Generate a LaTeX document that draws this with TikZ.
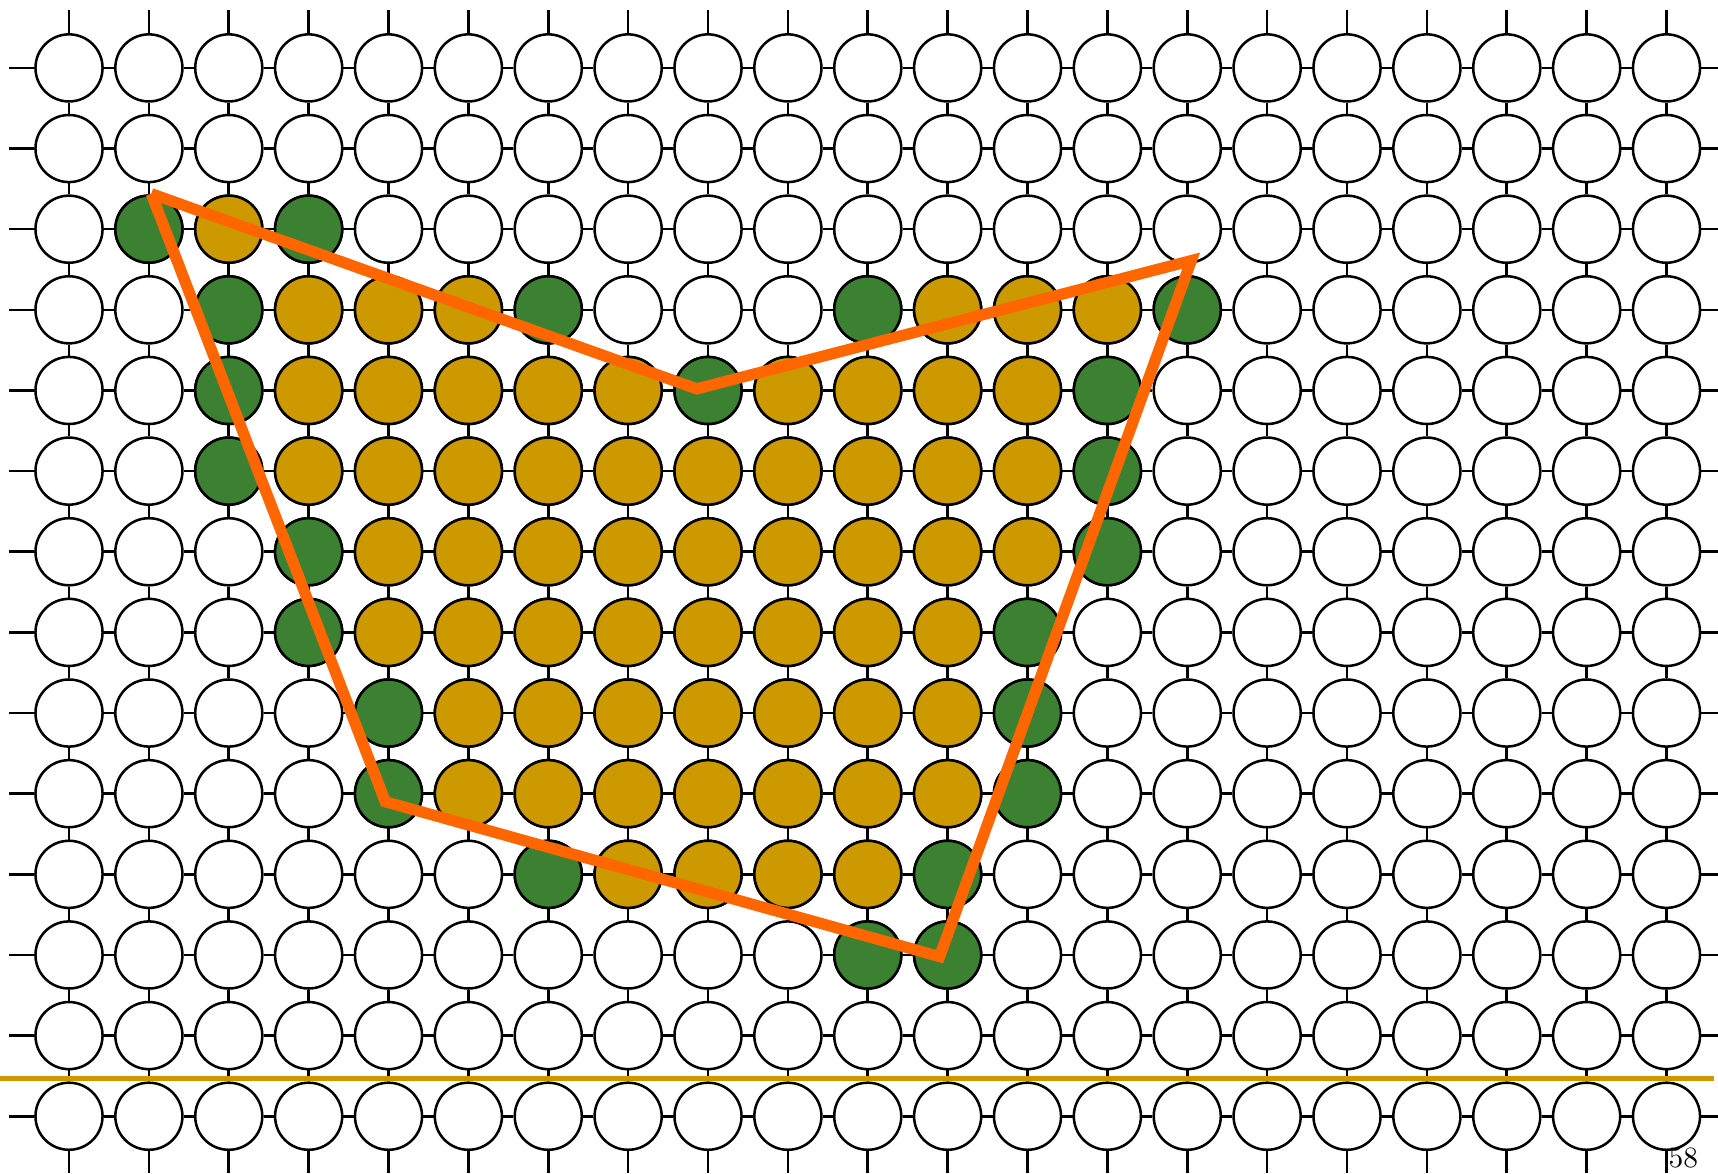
\documentclass[tikz,border=0pt]{standalone}
\usepackage{xcolor}
\usepackage{tikz}
\usetikzlibrary{positioning}
\definecolor{SiteGold}{HTML}{CC9900}
\definecolor{SiteGreen}{HTML}{3C8032}
\definecolor{CutOrange}{HTML}{FF6600}

\begin{document}
\begin{tikzpicture}[
  x=1cm, y=1.0096cm,
  site/.style={circle, draw=black, fill=white, line width=0.9pt,
    minimum size=0.84cm, inner sep=0pt},
  bulk/.style={site, fill=SiteGold},
  rim/.style={site, fill=SiteGreen},
  link/.style={line width=0.9pt, black},
  cut/.style={line width=4pt, CutOrange},
  floor/.style={line width=1.6pt, SiteGold}
]
\useasboundingbox (-0.864,0.842) rectangle (20.645,-13.709);

\foreach \r in {0,...,13}{
  \foreach \c in {0,...,20}{
    \node[site] (n-\r-\c) at (\c,-\r) {};
  }
}

\foreach \r/\a/\b in {2/2/2, 3/3/5, 3/11/13, 4/3/7, 4/9/12, 5/3/12,
  6/4/12, 7/4/11, 8/5/11, 9/5/11, 10/7/10}{
  \foreach \c in {\a,...,\b}{
    \node[bulk] (n-\r-\c) at (\c,-\r) {};
  }
}

\foreach \r/\c in {2/1, 2/3, 3/2, 3/6, 3/10, 3/14, 4/2, 4/8, 4/13, 5/2, 5/13,
  6/3, 6/13, 7/3, 7/12, 8/4, 8/12, 9/4, 9/12, 10/6, 10/11, 11/10, 11/11}{
  \node[rim] (n-\r-\c) at (\c,-\r) {};
}

\foreach \r in {0,...,13}{
  \foreach \c [count=\n from 1] in {0,...,19}{
    \draw[link] (n-\r-\c) -- (n-\r-\n);
  }
  \coordinate (wl-\r) at (-0.75,-\r);
  \coordinate (wr-\r) at (20.645,-\r);
  \draw[link] (wl-\r) -- (n-\r-0);
  \draw[link] (n-\r-20) -- (wr-\r);
}
\foreach \c in {0,...,20}{
  \foreach \r [count=\n from 1] in {0,...,12}{
    \draw[link] (n-\r-\c) -- (n-\n-\c);
  }
  \coordinate (wt-\c) at (\c,0.72);
  \coordinate (wb-\c) at (\c,-13.709);
  \draw[link] (wt-\c) -- (n-0-\c);
  \draw[link] (n-13-\c) -- (wb-\c);
}

\coordinate (fl) at (-0.864,-12.53);
\coordinate (fr) at (20.60,-12.53);
\draw[floor] (fl) -- (fr);

\coordinate (v1) at (1.03,-1.56);
\coordinate (v2) at (7.86,-3.98);
\coordinate (v3) at (14.05,-2.39);
\coordinate (v4) at (10.90,-11.02);
\coordinate (v5) at (3.96,-9.10);
\draw[cut] (v1) -- (v2) -- (v3) -- (v4) -- (v5) -- (v1);

\node[inner sep=0pt, font=\fontsize{10.5}{12}\selectfont] (pgnum) at (20.21,-13.52) {58};

\end{tikzpicture}
\end{document}
